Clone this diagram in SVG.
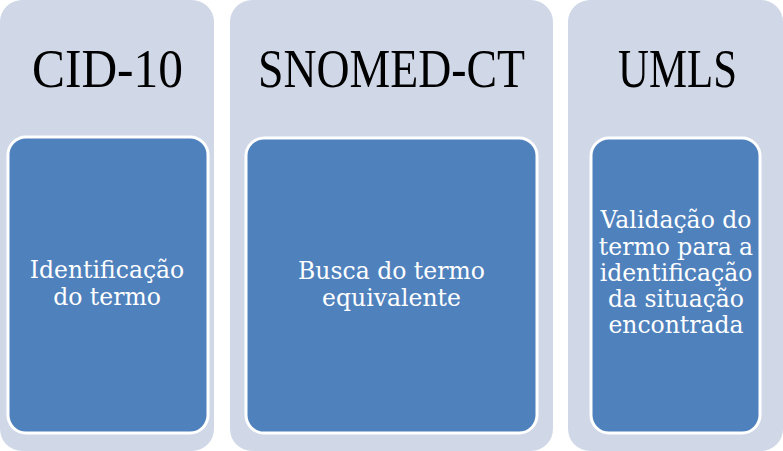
<svg xmlns="http://www.w3.org/2000/svg" width="783" height="451" viewBox="0 0 783 451">
<style>
.panel{fill:#D0D8E8;}
.box{fill:#4F81BD;stroke:#FFFFFF;stroke-width:3;}
.title{font-family:"Liberation Serif","Times New Roman",serif;font-size:54px;fill:#000000;text-anchor:middle;}
.body{font-family:"DejaVu Serif","Liberation Serif",serif;font-size:23.5px;fill:#FFFFFF;text-anchor:middle;}
</style>
<rect width="783" height="451" fill="#FFFFFF"/>
<g id="cid10">
<rect class="panel" x="0" y="0" width="214" height="451" rx="22"/>
<text class="title" x="107.5" y="87" textLength="151" lengthAdjust="spacingAndGlyphs">CID-10</text>
<rect class="box" x="8" y="137" width="200" height="296" rx="18"/>
<text class="body" x="107" y="278">Identificação</text>
<text class="body" x="107" y="305">do termo</text>
</g>
<g id="snomed">
<rect class="panel" x="230" y="0" width="323" height="451" rx="22"/>
<text class="title" x="391.5" y="87" textLength="267" lengthAdjust="spacingAndGlyphs">SNOMED-CT</text>
<rect class="box" x="246" y="138" width="291" height="295" rx="18"/>
<text class="body" x="391.5" y="279">Busca do termo</text>
<text class="body" x="391.5" y="306">equivalente</text>
</g>
<g id="umls">
<rect class="panel" x="568" y="0" width="215" height="451" rx="22"/>
<text class="title" x="677.5" y="87" textLength="119" lengthAdjust="spacingAndGlyphs">UMLS</text>
<rect class="box" x="591" y="138" width="169" height="295" rx="18"/>
<text class="body" x="676" y="228">Validação do</text>
<text class="body" x="676" y="255">termo para a</text>
<text class="body" x="676" y="281">identificação</text>
<text class="body" x="676" y="307">da situação</text>
<text class="body" x="676" y="333">encontrada</text>
</g>
<g id="connectors"></g>
</svg>
